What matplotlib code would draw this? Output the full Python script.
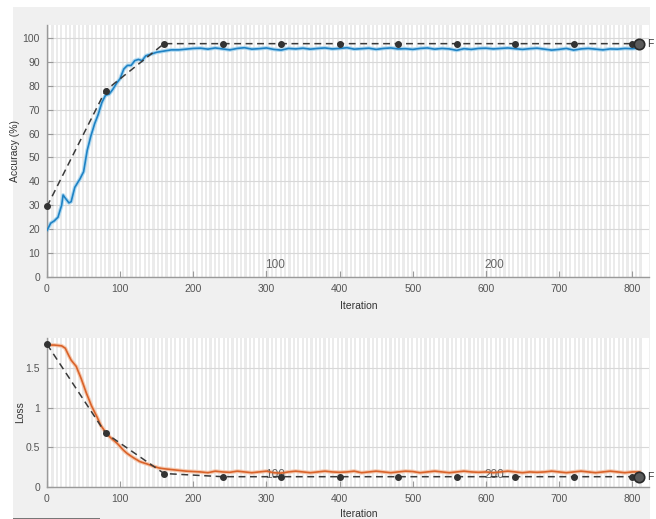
import matplotlib
matplotlib.use("Agg")
import matplotlib.pyplot as plt
from matplotlib.patches import Rectangle

plt.rcParams['font.family'] = ['Liberation Sans', 'DejaVu Sans']

# ---------------- data ----------------
acc_iter = [0, 5, 10, 15, 20, 22, 25, 30, 33, 38, 45, 50, 55, 60, 65, 70, 75, 80, 85, 90,
            95, 100, 105, 110, 115, 120, 125, 130, 135, 140, 150, 160, 170, 180, 190, 200,
            210, 220, 230, 240, 250, 260, 270, 280, 290, 300, 310, 320, 330, 340, 350, 360,
            370, 380, 390, 400, 410, 420, 430, 440, 450, 460, 470, 480, 490, 500, 510, 520,
            530, 540, 550, 560, 570, 580, 590, 600, 610, 620, 630, 640, 650, 660, 670, 680,
            690, 700, 710, 720, 730, 740, 750, 760, 770, 780, 790, 800, 810]
acc_smooth = [19.5, 22.5, 23.5, 25.0, 30.0, 34.3, 33.0, 31.0, 31.5, 37.5, 41.0, 44.0, 53.0,
              59.0, 64.0, 68.0, 73.0, 76.0, 76.5, 78.5, 81.0, 83.0, 87.0, 88.5, 88.5, 90.5,
              91.0, 90.5, 92.5, 93.0, 94.0, 94.5, 95.0, 95.0, 95.3, 95.6,
              95.7, 95.3, 95.8, 95.4, 95.0, 95.6, 95.9, 95.3, 95.5, 95.8, 95.2, 94.9, 95.6,
              95.4, 95.7, 95.3, 95.6, 95.8, 95.4, 95.6, 95.9, 95.3, 95.5, 95.7, 95.2, 95.6,
              95.8, 95.4, 95.5, 95.2, 95.6, 95.8, 95.3, 95.6, 95.4, 94.8, 95.5, 95.2, 95.6,
              95.7, 95.4, 95.6, 95.8, 95.5, 95.2, 95.5, 95.7, 95.3, 94.9, 95.2, 95.6, 94.9,
              95.4, 95.6, 95.3, 95.0, 95.4, 95.3, 95.6, 95.5, 95.8]

loss_iter = [0, 10, 20, 25, 28, 33, 40, 47, 54, 61, 68, 74, 81, 86, 91, 96, 100, 105, 110,
             118, 127, 137, 146, 153, 160, 170, 180, 190, 200, 210, 220, 230, 240, 250, 260,
             270, 280, 290, 300, 310, 320, 330, 340, 350, 360, 370, 380, 390, 400, 410, 420,
             430, 440, 450, 460, 470, 480, 490, 500, 510, 520, 530, 540, 550, 560, 570, 580,
             590, 600, 610, 620, 630, 640, 650, 660, 670, 680, 690, 700, 710, 720, 730, 740,
             750, 760, 770, 780, 790, 800, 810]
loss_smooth = [1.79, 1.79, 1.78, 1.75, 1.69, 1.60, 1.52, 1.36, 1.18, 1.02, 0.89, 0.77, 0.68,
               0.63, 0.59, 0.55, 0.51, 0.46, 0.42, 0.37, 0.32, 0.29, 0.26, 0.24, 0.23, 0.22,
               0.21, 0.20, 0.195, 0.19, 0.18, 0.20, 0.19, 0.185, 0.20, 0.19, 0.18, 0.19, 0.20,
               0.18, 0.175, 0.19, 0.20, 0.19, 0.18, 0.19, 0.20, 0.19, 0.185, 0.19, 0.20, 0.18,
               0.19, 0.20, 0.19, 0.18, 0.19, 0.20, 0.195, 0.18, 0.19, 0.20, 0.19, 0.18, 0.19,
               0.20, 0.19, 0.185, 0.19, 0.18, 0.19, 0.20, 0.19, 0.18, 0.19, 0.185, 0.19, 0.20,
               0.19, 0.18, 0.19, 0.20, 0.19, 0.18, 0.19, 0.20, 0.19, 0.18, 0.19, 0.19]

val_iter = [0, 80, 160, 240, 320, 400, 480, 560, 640, 720, 800, 810]
val_acc = [29.5, 78.0, 97.6, 97.6, 97.6, 97.6, 97.6, 97.6, 97.6, 97.6, 97.6, 97.6]
val_loss = [1.80, 0.68, 0.17, 0.13, 0.13, 0.13, 0.13, 0.13, 0.13, 0.13, 0.13, 0.13]

epoch_tick_iters = [300, 600]
epoch_tick_labels = ['100', '200']
iters_per_epoch = 3
max_iter = 810

# ---------------- figure ----------------
W, H = 656, 519
fig = plt.figure(figsize=(W / 100, H / 100), dpi=100, facecolor='white')
fig.patches.append(Rectangle((13 / W, 0), (650 - 13) / W, (519 - 7) / H,
                             transform=fig.transFigure, facecolor='#f0f0f0',
                             edgecolor='none', zorder=-10))
fig.patches.append(Rectangle((13 / W, 0), (100 - 13) / W, 1.5 / H,
                             transform=fig.transFigure, facecolor='#777777',
                             edgecolor='none', zorder=-9))

left = 47 / W
width = (649 - 47) / W
ax1 = fig.add_axes([left, 1 - 277 / H, width, (277 - 25) / H])
ax2 = fig.add_axes([left, 1 - 487 / H, width, (487 - 338) / H])

tick_col = '#555555'
spine_col = '#9a9a9a'


def style(ax, ylim, yticks, yticklabels, ylabel):
    ax.set_facecolor('white')
    ax.set_xlim(0, 823)
    ax.set_ylim(*ylim)
    # epoch shading
    for e in range(0, max_iter // iters_per_epoch + 1, 2):
        ax.axvspan(e * iters_per_epoch, (e + 1) * iters_per_epoch,
                   color='#ebebeb', lw=0, zorder=0)
    ax.set_yticks(yticks)
    ax.set_yticklabels(yticklabels)
    ax.set_xticks(range(0, 801, 100))
    for y in yticks:
        ax.axhline(y, color='#d8d8d8', lw=0.8, zorder=0.5)
    for s in ['top', 'right']:
        ax.spines[s].set_visible(False)
    for s in ['left', 'bottom']:
        ax.spines[s].set_color(spine_col)
        ax.spines[s].set_linewidth(1.0)
    ax.tick_params(direction='in', length=4, width=0.8, color=spine_col,
                   labelcolor=tick_col, labelsize=7.5, pad=5)
    ax.set_xlabel('Iteration', fontsize=7.5, color='#333333')
    ax.set_ylabel(ylabel, fontsize=7.5, color='#333333')
    for it, lab in zip(epoch_tick_iters, epoch_tick_labels):
        ax.plot([it, it], [ylim[0], ylim[0] + (ylim[1] - ylim[0]) * 0.025],
                color=spine_col, lw=0.8, clip_on=False, zorder=3)
        ax.annotate(lab, xy=(it, ylim[0]), xytext=(-1, 4.5), textcoords='offset points',
                    ha='left', va='bottom', fontsize=8.5, color='#666666', zorder=3)


style(ax1, (0, 105.4), list(range(0, 101, 10)), [str(v) for v in range(0, 101, 10)],
      'Accuracy (%)')
style(ax2, (0, 1.879), [0, 0.5, 1, 1.5], ['0', '0.5', '1', '1.5'], 'Loss')
lx = (359 - 47) / (649 - 47)
ax1.xaxis.set_label_coords(lx, -0.095)
ax2.xaxis.set_label_coords(lx, -0.145)
ax1.yaxis.set_label_coords(-0.045, 0.5)
ax2.yaxis.set_label_coords(-0.037, 0.5)

# training curves
ax1.plot(acc_iter, acc_smooth, color='#9fd2f0', lw=2.8, alpha=0.8, zorder=2)
ax1.plot(acc_iter, acc_smooth, color='#1f82c4', lw=1.2, zorder=3)
ax2.plot(loss_iter, loss_smooth, color='#f5bfa0', lw=2.8, alpha=0.8, zorder=2)
ax2.plot(loss_iter, loss_smooth, color='#d9632a', lw=1.2, zorder=3)

# validation
for ax, vals in ((ax1, val_acc), (ax2, val_loss)):
    ax.plot(val_iter, vals, color='#3a3a3a', lw=1.1, ls=(0, (4.5, 3)), zorder=4,
            marker='o', markersize=4.0, markerfacecolor='#333333',
            markeredgecolor='#333333', clip_on=False)
    ax.plot([val_iter[-1]], [vals[-1]], 'o', markersize=7.5, markerfacecolor='#5a5a5a',
            markeredgecolor='#2a2a2a', markeredgewidth=1.2, zorder=5, clip_on=False)
    ax.annotate('F', xy=(val_iter[-1], vals[-1]), xytext=(5.5, 0),
                textcoords='offset points', ha='left', va='center', fontsize=7.5,
                color='#333333', annotation_clip=False)

fig.savefig('out.png', dpi=100, facecolor='white')
